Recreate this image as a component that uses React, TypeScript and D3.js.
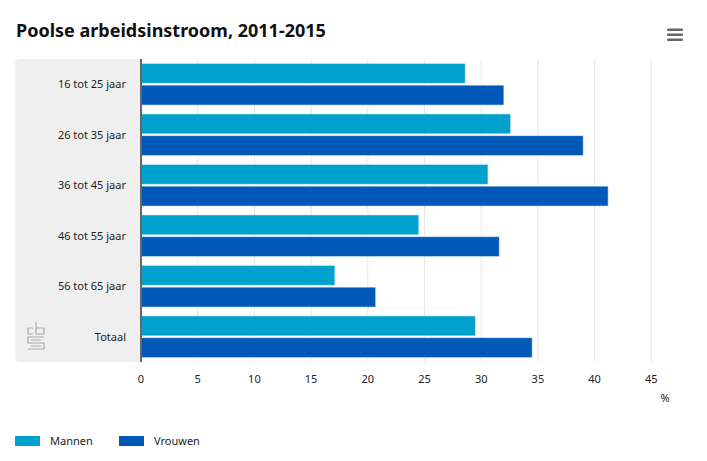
import React from "react";
import * as d3 from "d3";

const categories = ["16 tot 25 jaar", "26 tot 35 jaar", "36 tot 45 jaar", "46 tot 55 jaar", "56 tot 65 jaar", "Totaal"];
const mannen = [28.6, 32.6, 30.6, 24.5, 17.1, 29.5];
const vrouwen = [32.0, 39.0, 41.2, 31.6, 20.7, 34.5];
const xTicks = [0, 5, 10, 15, 20, 25, 30, 35, 40, 45];
const seriesNames = ["Mannen", "Vrouwen"];
const seriesColors = ["#00a1cd", "#0058b8"];

const W = 707;
const H = 461;
const plot = { left: 141, right: 663, top: 59, bottom: 362 };
const font = "'Noto Sans', sans-serif";

export default function App() {
  const x = d3.scaleLinear().domain([0, 46]).range([plot.left, plot.left + 46 * (510.3 / 45)]);
  const y = d3.scaleBand<string>().domain(categories).range([plot.top, plot.bottom]);
  const inner = d3.scaleBand<string>().domain(seriesNames).range([0, y.bandwidth()]).paddingInner(0.08).paddingOuter(0.2);
  const data = [mannen, vrouwen];

  return (
    <svg width={W} height={H} style={{ position: "absolute", left: 0, top: 0, fontFamily: font }}>
      <rect x={0} y={0} width={W} height={H} fill="#ffffff" />
      <text x={16} y={37} fontSize={18} fontWeight="bold" fill="#111">Poolse arbeidsinstroom, 2011-2015</text>
      {/* menu icon */}
      {[0, 1, 2].map((i) => (
        <rect key={i} x={667} y={28.5 + i * 5} width={16} height={2.5} rx={1} fill="#666" />
      ))}
      {/* gray label panel */}
      <path
        d={`M${plot.left},${plot.top} L20,${plot.top} Q15,${plot.top} 15,${plot.top + 5} L15,${plot.bottom - 5} Q15,${plot.bottom} 20,${plot.bottom} L${plot.left},${plot.bottom} Z`}
        fill="#efefef"
      />
      {/* grid lines */}
      {xTicks.map((t) => (
        <line key={t} x1={x(t)} x2={x(t)} y1={plot.top} y2={plot.bottom} stroke="#e6e6e6" strokeWidth={1} />
      ))}
      {/* bars */}
      {categories.map((c, ci) =>
        seriesNames.map((s, si) => (
          <rect
            key={c + s}
            x={x(0)}
            y={(y(c) as number) + (inner(s) as number)}
            width={x(data[si][ci]) - x(0)}
            height={inner.bandwidth()}
            fill={seriesColors[si]}
            stroke="#ffffff"
            strokeWidth={1}
            strokeOpacity={0.6}
          />
        ))
      )}
      {/* axis line */}
      <line x1={plot.left} x2={plot.left} y1={plot.top} y2={plot.bottom} stroke="#666" strokeWidth={2} />
      {/* category labels */}
      {categories.map((c) => (
        <text key={c} x={126} y={(y(c) as number) + y.bandwidth() / 2 + 4} textAnchor="end" fontSize={11} fill="#222">
          {c}
        </text>
      ))}
      {/* x tick labels */}
      {xTicks.map((t) => (
        <text key={t} x={x(t)} y={383} textAnchor="middle" fontSize={11} fill="#222">
          {t}
        </text>
      ))}
      <text x={665} y={402} textAnchor="middle" fontSize={11} fill="#222">%</text>
      {/* CBS logo */}
      <g fill="none" stroke="#aaa" strokeWidth={1.2}>
        <path d="M33,328 L28,328 L28,334 L33,334" />
        <path d="M36,322 L36,334 L44,334 L44,328 L36,328" />
        <path d="M44,337 L28,337 L28,343 L44,343 L44,349 L28,349" />
        <path d="M41,340 L31,340 M31,346 L41,346" />
      </g>
      {/* legend */}
      {seriesNames.map((s, i) => (
        <g key={s} transform={`translate(${15 + i * 104},0)`}>
          <rect x={0} y={436} width={25} height={10} fill={seriesColors[i]} />
          <text x={35} y={445} fontSize={11} fill="#222">{s}</text>
        </g>
      ))}
    </svg>
  );
}
